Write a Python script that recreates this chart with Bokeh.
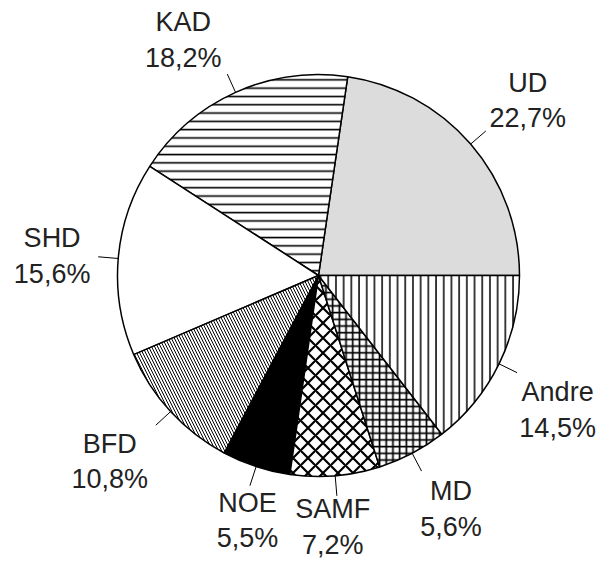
import numpy as np
from bokeh.plotting import figure
from bokeh.models import ColumnDataSource, Range1d
from bokeh.core.properties import value
from bokeh.embed import file_html
from bokeh.resources import INLINE

# ---- data ----
categories = ["UD", "KAD", "SHD", "BFD", "NOE", "SAMF", "MD", "Andre"]
shares = [22.7, 18.2, 15.6, 10.8, 5.5, 7.2, 5.6, 14.5]

# ---- styles (per slice) ----
fills = ["#dcdcdc", "white", "white", "white", "black", "white", "white", "white"]
hatches = [" ", "horizontal_line", " ", "left_diagonal_line", " ", "diagonal_cross", "cross", "vertical_line"]
hatch_scales = [8, 8.3, 8, 6, 8, 15, 6.7, 7.7]
hatch_weights = [1, 1.6, 1, 1, 1, 2.2, 1.7, 1.5]

# ---- layout ----
W, H = 602, 562
CX, CY = 318, H - 275
R = 201
LABEL_R = 1.33 * R
# small label nudges (screen px: dx, dy downwards)
nudge = [(7, 0), (-25, 8), (0, 3), (-12, 5), (12, -9), (-8, -15), (8, -3), (-1, 17)]

vals = np.array(shares, dtype=float)
frac = vals / vals.sum()
ends = np.cumsum(frac) * 2 * np.pi
starts = ends - frac * 2 * np.pi
mids = (starts + ends) / 2

src = ColumnDataSource(dict(
    start=starts, end=ends, fill=fills, hatch=hatches,
    hscale=hatch_scales, hweight=hatch_weights,
))

p = figure(width=W, height=H, x_range=Range1d(0, W), y_range=Range1d(0, H),
           output_backend="svg", toolbar_location=None, min_border=0,
           background_fill_color="white", border_fill_color="white")
p.axis.visible = False
p.grid.visible = False
p.outline_line_color = None

p.wedge(x=CX, y=CY, radius=R, start_angle="start", end_angle="end", source=src,
        fill_color="fill", hatch_pattern="hatch", hatch_color="black",
        hatch_scale="hscale", hatch_weight="hweight",
        line_color="black", line_width=1.5)

# leader lines
x0 = CX + R * np.cos(mids)
y0 = CY + R * np.sin(mids)
x1 = CX + 1.1 * R * np.cos(mids)
y1 = CY + 1.1 * R * np.sin(mids)
p.segment(x0=x0, y0=y0, x1=x1, y1=y1, line_color="black", line_width=1)

# labels
texts = [f"{c}\n{str(v).replace('.', ',')}%" for c, v in zip(categories, shares)]
lx = CX + LABEL_R * np.cos(mids) + np.array([n[0] for n in nudge])
ly = CY + LABEL_R * np.sin(mids) - np.array([n[1] for n in nudge])
p.text(x=lx, y=ly, text=texts, text_align="center", text_baseline="middle",
       text_font=value("Liberation Sans"), text_font_size="27px",
       text_color="#222222", text_line_height=1.18)

open("out.html", "w").write(file_html(p, INLINE))
